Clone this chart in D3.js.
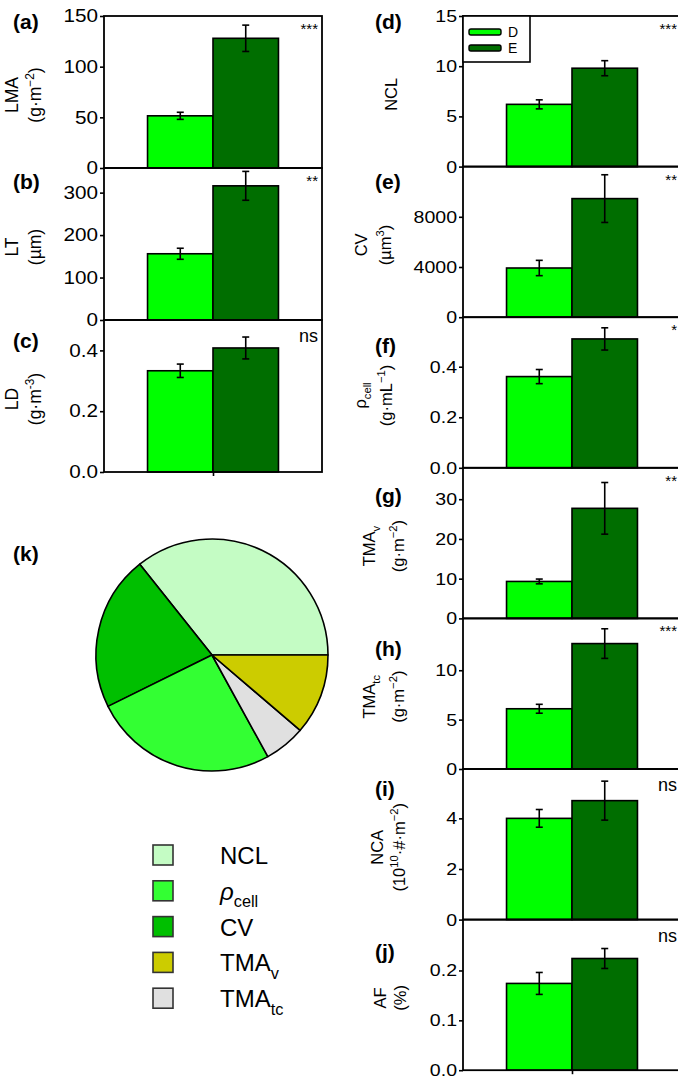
<!DOCTYPE html>
<html>
<head>
<meta charset="utf-8">
<script src="https://cdn.jsdelivr.net/npm/d3@7/dist/d3.min.js"></script>
<style>
  body { margin: 0; background: #fff; }
  text { font-family: "Liberation Sans", Arial, sans-serif; fill: #000; }
</style>
</head>
<body>
<svg id="fig" width="678" height="1080"></svg>
<script>
// groups and their bar colours
const groups = ["D", "E"];
const groupColors = ["#00ff00", "#006e00"];

// means [D, E] and error bars
const lmaMean = [51.5, 128],     lmaErr = [3.5, 13];
const ltMean = [156, 316],       ltErr = [13, 34];
const ldMean = [0.333, 0.408],   ldErr = [0.022, 0.036];
const nclMean = [6.2, 9.8],      nclErr = [0.45, 0.75];
const cvMean = [3920, 9450],     cvErr = [610, 1900];
const rhoMean = [0.361, 0.510],  rhoErr = [0.028, 0.044];
const tmavMean = [9.3, 27.7],    tmavErr = [0.6, 6.5];
const tmatcMean = [6.1, 12.7],   tmatcErr = [0.45, 1.5];
const ncaMean = [4.0, 4.7],      ncaErr = [0.35, 0.77];
const afMean = [0.174, 0.224],   afErr = [0.022, 0.02];

// significance marks
const sigMarks = ["***", "**", "ns", "***", "**", "*", "**", "***", "ns", "ns"];

// pie (k): share of each component, counter-clockwise from 3 o'clock
const pieNames = ["NCL", "CV", "rho", "TMAtc", "TMAv"];
const pieValues = [35.7, 21.6, 25.7, 5.75, 11.25];
// legend order and colours
const legendNames = ["NCL", "rho", "CV", "TMAv", "TMAtc"];
const pieColors = { NCL: "#c4fcc4", rho: "#33ff33", CV: "#00bf00", TMAv: "#cccc00", TMAtc: "#e0e0e0" };

const svg = d3.select("#fig");

// text with sub/superscripts: parts = [[text, "sup"|"sub"|""]]
function rich(t, parts, size) {
  let shift = 0;
  parts.forEach(([s, m]) => {
    const target = m === "sup" ? -0.42 * size : m === "sub" ? 0.32 * size : 0;
    t.append("tspan")
      .attr("dy", target - shift)
      .attr("font-size", m ? size * 0.68 : size)
      .text(s);
    shift = target;
  });
}

// panel settings (ly = centre of the panel letter)
const panels = [
  { id: "(a)", col: 0, row: 0, mean: lmaMean, err: lmaErr, max: 150, ticks: [0, 50, 100, 150], fmt: "d",
    name: [["LMA", ""]], unit: [["(g·m", ""], ["−2", "sup"], [")", ""]], lx: [18, 41], ly: 23 },
  { id: "(b)", col: 0, row: 1, mean: ltMean, err: ltErr, max: 358, ticks: [0, 100, 200, 300], fmt: "d",
    name: [["LT", ""]], unit: [["(µm)", ""]], lx: [18, 41], ly: 183 },
  { id: "(c)", col: 0, row: 2, mean: ldMean, err: ldErr, max: 0.5, ticks: [0, 0.2, 0.4], fmt: ".1f",
    name: [["LD", ""]], unit: [["(g·m", ""], ["-3", "sup"], [")", ""]], lx: [18, 41], ly: 342 },
  { id: "(d)", col: 1, row: 0, mean: nclMean, err: nclErr, max: 15, ticks: [0, 5, 10, 15], fmt: "d",
    name: [["NCL", ""]], unit: null, lx: [397], ly: 23 },
  { id: "(e)", col: 1, row: 1, mean: cvMean, err: cvErr, max: 12000, ticks: [0, 4000, 8000], fmt: "d",
    name: [["CV", ""]], unit: [["(µm", ""], ["3", "sup"], [")", ""]], lx: [367, 391], ly: 183 },
  { id: "(f)", col: 1, row: 2, mean: rhoMean, err: rhoErr, max: 0.596, ticks: [0, 0.2, 0.4], fmt: ".1f",
    name: [["ρ", ""], ["cell", "sub"]], unit: [["(g·mL", ""], ["−1", "sup"], [")", ""]], lx: [366, 392], ly: 347 },
  { id: "(g)", col: 1, row: 3, mean: tmavMean, err: tmavErr, max: 37.9, ticks: [0, 10, 20, 30], fmt: "d",
    name: [["TMA", ""], ["v", "sub"]], unit: [["(g·m", ""], ["−2", "sup"], [")", ""]], lx: [375, 404], ly: 497 },
  { id: "(h)", col: 1, row: 4, mean: tmatcMean, err: tmatcErr, max: 15.25, ticks: [0, 5, 10], fmt: "d",
    name: [["TMA", ""], ["tc", "sub"]], unit: [["(g·m", ""], ["−2", "sup"], [")", ""]], lx: [375, 404], ly: 650 },
  { id: "(i)", col: 1, row: 5, mean: ncaMean, err: ncaErr, max: 5.95, ticks: [0, 2, 4], fmt: "d",
    name: [["NCA", ""]], unit: [["(10", ""], ["10", "sup"], ["·#·m", ""], ["−2", "sup"], [")", ""]], lx: [383, 405], ly: 790 },
  { id: "(j)", col: 1, row: 6, mean: afMean, err: afErr, max: 0.302, ticks: [0, 0.1, 0.2], fmt: ".1f",
    name: [["AF", ""]], unit: [["(%)", ""]], lx: [386, 406], ly: 953 }
];

const colLeft = [104, 463], plotW = 218;
const colTop = 16, rowH = [152, 150.6];
const letterX = [13, 375];
const tickSize = [18, 17], tickStretch = 1.15;
const labelSize = [17.5, 16.5];
const letterSize = 21;

panels.forEach((p, i) => {
  const x0 = colLeft[p.col], h = rowH[p.col];
  const y0 = colTop + p.row * h;
  const g = svg.append("g").attr("transform", `translate(${x0},${y0})`);

  const x = d3.scaleBand().domain(groups).range([0, plotW]).paddingOuter(0.665).paddingInner(0);
  const y = d3.scaleLinear().domain([0, p.max]).range([h, 0]);

  // bars
  g.selectAll("rect.bar").data(groups).enter().append("rect")
    .attr("class", "bar")
    .attr("x", d => x(d))
    .attr("width", x.bandwidth())
    .attr("y", (d, k) => y(p.mean[k]))
    .attr("height", (d, k) => y(0) - y(p.mean[k]))
    .attr("fill", (d, k) => groupColors[k])
    .attr("stroke", "#000").attr("stroke-width", 1.6);

  // error bars
  const cx = d => x(d) + x.bandwidth() / 2;
  const eb = g.selectAll("g.err").data(groups).enter().append("g")
    .attr("stroke", "#000").attr("stroke-width", 1.6);
  eb.append("line")
    .attr("x1", cx).attr("x2", cx)
    .attr("y1", (d, k) => y(p.mean[k] + p.err[k])).attr("y2", (d, k) => y(p.mean[k] - p.err[k]));
  [1, -1].forEach(s => {
    eb.append("line")
      .attr("x1", d => cx(d) - 3.5).attr("x2", d => cx(d) + 3.5)
      .attr("y1", (d, k) => y(p.mean[k] + s * p.err[k]))
      .attr("y2", (d, k) => y(p.mean[k] + s * p.err[k]));
  });

  // frame
  g.append("rect").attr("width", plotW).attr("height", h)
    .attr("fill", "none").attr("stroke", "#000").attr("stroke-width", 1.8);

  // y axis
  const ax = g.append("g").call(d3.axisLeft(y).tickValues(p.ticks).tickFormat(d3.format(p.fmt))
    .tickSize(4).tickSizeOuter(0));
  ax.select(".domain").remove();
  ax.selectAll("line").attr("stroke-width", 1.6);
  ax.selectAll("text").attr("font-size", tickSize[p.col]).attr("font-family", null)
    .attr("x", -6 / tickStretch).attr("transform", `scale(${tickStretch},1)`).attr("fill", "#000");

  // bottom tick on the last panel of each column
  if ((p.col === 0 && p.row === 2) || (p.col === 1 && p.row === 6)) {
    const bx = g.append("g").attr("transform", `translate(0,${h})`)
      .call(d3.axisBottom(d3.scaleLinear().range([0, plotW])).tickValues([0.5]).tickFormat("").tickSize(4));
    bx.select(".domain").remove();
    bx.selectAll("line").attr("stroke-width", 1.6);
  }

  // significance
  const sig = sigMarks[i];
  g.append("text").attr("x", plotW - 4).attr("y", sig === "ns" ? 22 : 18)
    .attr("text-anchor", "end").attr("font-size", sig === "ns" ? 18 : 15)
    .text(sig);

  // panel letter
  svg.append("text").attr("x", letterX[p.col]).attr("y", p.ly + 0.27 * letterSize)
    .attr("font-size", letterSize).attr("font-weight", "bold").text(p.id);

  // y labels
  const cy = y0 + h / 2 + 3;
  const lines = p.unit ? [p.name, p.unit] : [p.name];
  lines.forEach((parts, k) => {
    const t = svg.append("text")
      .attr("transform", `translate(${p.lx[k]},${cy}) rotate(-90)`)
      .attr("text-anchor", "middle").attr("dy", "0.36em")
      .attr("font-size", labelSize[p.col]);
    rich(t, parts, labelSize[p.col]);
  });
});

// legend inside (d)
const lg = svg.append("g").attr("transform", `translate(${colLeft[1]},${colTop})`);
lg.append("rect").attr("width", 67).attr("height", 46)
  .attr("fill", "#fff").attr("stroke", "#000").attr("stroke-width", 1.6);
groups.forEach((gname, k) => {
  lg.append("rect").attr("x", 6).attr("y", 13 + k * 16).attr("width", 32).attr("height", 6)
    .attr("rx", 2).attr("fill", groupColors[k]).attr("stroke", "#000").attr("stroke-width", 1.4);
  lg.append("text").attr("x", 45).attr("y", 21 + k * 16).attr("font-size", 14).text(gname);
});

// pie (k)
svg.append("text").attr("x", 13).attr("y", 555 + 0.27 * letterSize)
  .attr("font-size", letterSize).attr("font-weight", "bold").text("(k)");
const pieData = pieNames.map((n, k) => ({ name: n, v: pieValues[k] }));
const pie = d3.pie().sort(null).value(d => d.v)
  .startAngle(Math.PI / 2).endAngle(Math.PI / 2 - 2 * Math.PI);
const arc = d3.arc().innerRadius(0).outerRadius(116);
svg.append("g").attr("transform", "translate(212,655)")
  .selectAll("path").data(pie(pieData)).enter().append("path")
  .attr("d", arc)
  .attr("fill", d => pieColors[d.data.name])
  .attr("stroke", "#000").attr("stroke-width", 1.6).attr("stroke-linejoin", "round");

// pie legend
const legendLabels = {
  NCL: [["NCL", ""]],
  rho: [["ρ", ""], ["cell", "sub"]],
  CV: [["CV", ""]],
  TMAv: [["TMA", ""], ["v", "sub"]],
  TMAtc: [["TMA", ""], ["tc", "sub"]]
};
legendNames.forEach((n, k) => {
  const cy = 855 + k * 35.8;
  svg.append("rect").attr("x", 153).attr("y", cy - 10).attr("width", 20).attr("height", 20)
    .attr("fill", pieColors[n]).attr("stroke", "#333").attr("stroke-width", 1.6);
  const t = svg.append("text").attr("x", 220).attr("y", cy + 9).attr("font-size", 24);
  rich(t, legendLabels[n], 24);
  if (n === "rho") t.select("tspan").attr("font-style", "italic");
});
</script>
</body>
</html>
